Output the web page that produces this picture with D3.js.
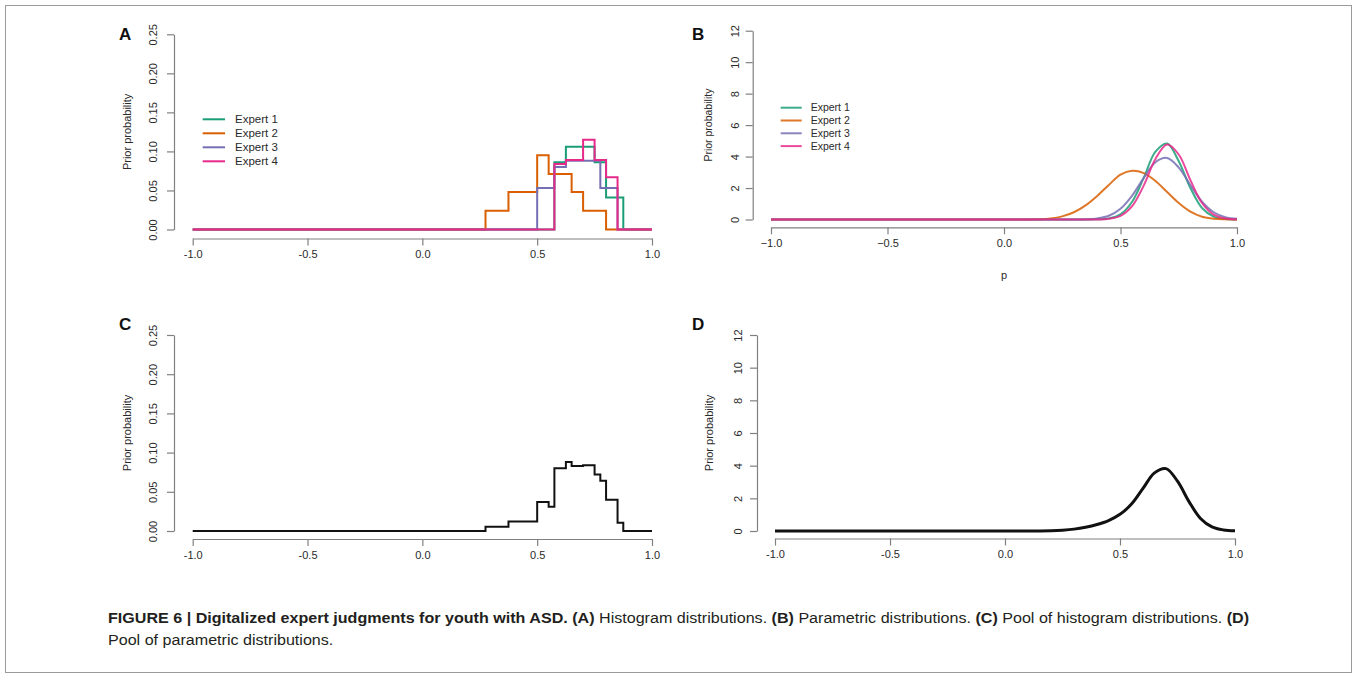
<!DOCTYPE html>
<html>
<head>
<meta charset="utf-8">
<script src="https://cdn.jsdelivr.net/npm/d3@7"></script>
<style>
  body { margin: 0; background: #fff; }
  text { font-family: "Liberation Sans", Arial, Helvetica, sans-serif; }
</style>
</head>
<body>
<svg id="fig" width="1358" height="679"></svg>
<script>
// ---- data ----
const experts = ["Expert 1", "Expert 2", "Expert 3", "Expert 4"];
const expertColors = ["#1b9e77", "#d95f02", "#7570b3", "#e7298a"];

// (A) histogram of each expert: bin edges and bin heights
const histEdges1 = [0.575, 0.625, 0.75, 0.80, 0.875];
const histProb1  = [0.086, 0.106, 0.086, 0.041];
const histEdges2 = [0.275, 0.375, 0.50, 0.55, 0.65, 0.70, 0.80];
const histProb2  = [0.024, 0.048, 0.095, 0.071, 0.048, 0.024];
const histEdges3 = [0.50, 0.575, 0.625, 0.775, 0.85];
const histProb3  = [0.053, 0.080, 0.088, 0.053];
const histEdges4 = [0.575, 0.625, 0.70, 0.75, 0.80, 0.85];
const histProb4  = [0.084, 0.089, 0.115, 0.089, 0.067];

// (C) pooled histogram
const poolEdges = [0.275, 0.375, 0.50, 0.55, 0.575, 0.625, 0.65, 0.70, 0.75, 0.775, 0.80, 0.85, 0.875];
const poolProb  = [0.0055, 0.012, 0.037, 0.031, 0.080, 0.088, 0.083, 0.084, 0.072, 0.064, 0.040, 0.0105];

// (B) parametric densities sampled along p
const pGrid = [-1.0, 0.0, 0.05, 0.10, 0.15, 0.20, 0.25, 0.30, 0.35, 0.40, 0.45,
               0.50, 0.55, 0.60, 0.65, 0.70, 0.75, 0.80, 0.85, 0.90, 0.95, 1.0];
const dens1 = [0, 0, 0, 0, 0, 0, 0, 0, 0, 0.01, 0.07, 0.33, 1.13, 2.66, 4.31, 4.83, 3.70, 2.00, 0.73, 0.18, 0.03, 0.0];
const dens2 = [0, 0, 0, 0, 0.01, 0.06, 0.20, 0.46, 0.90, 1.50, 2.20, 2.85, 3.10, 2.95, 2.45, 1.75, 1.05, 0.50, 0.18, 0.05, 0.01, 0];
const dens3 = [0, 0, 0, 0, 0, 0, 0, 0, 0.015, 0.07, 0.24, 0.68, 1.52, 2.65, 3.64, 3.91, 3.30, 2.19, 1.13, 0.46, 0.15, 0.04];
const dens4 = [0, 0, 0, 0, 0, 0, 0, 0, 0, 0, 0.045, 0.23, 0.85, 2.17, 3.85, 4.77, 4.13, 2.50, 1.05, 0.31, 0.066, 0.01];

// (D) pooled density
const poolDens = [0, 0, 0, 0, 0.0025, 0.015, 0.05, 0.115, 0.23, 0.40, 0.64, 1.02, 1.65, 2.61, 3.56, 3.82, 3.05, 1.80, 0.77, 0.25, 0.065, 0.015];

// axis ticks
const xTicks = [-1.0, -0.5, 0.0, 0.5, 1.0];
const probTicks = [0, 0.05, 0.10, 0.15, 0.20, 0.25];
const densTicks = [0, 2, 4, 6, 8, 10, 12];

// ---- drawing ----
const svg = d3.select("#fig");

svg.append("rect")
  .attr("x", 5.5).attr("y", 5.5)
  .attr("width", 1346).attr("height", 667)
  .attr("fill", "none").attr("stroke", "#9a9a9a").attr("stroke-width", 1);

function histPoints(edges, probs) {
  let pts = [[-1, 0]];
  edges.forEach((e, i) => pts.push([e, i < probs.length ? probs[i] : 0]));
  pts.push([1, 0]);
  return pts;
}

function makePanel(o) {
  const x = d3.scaleLinear().domain([-1, 1]).range([o.xLeft, o.xRight]);
  const y = d3.scaleLinear().domain([0, o.yMax]).range([o.yZero, o.yTop]);
  const g = svg.append("g");

  // y axis
  const ya = g.append("g")
    .attr("transform", `translate(${o.yAxisX},0)`)
    .call(d3.axisLeft(y).tickValues(o.yTicks).tickSize(7).tickSizeOuter(0)
      .tickFormat(o.yFormat));
  // x axis
  const xa = g.append("g")
    .attr("transform", `translate(0,${o.xAxisY})`)
    .call(d3.axisBottom(x).tickValues(xTicks).tickSize(7).tickSizeOuter(0)
      .tickFormat(o.xFormat));

  [ya, xa].forEach(a => {
    a.select(".domain").attr("stroke", "#808080").attr("stroke-width", 1.2);
    a.selectAll(".tick line").attr("stroke", "#808080").attr("stroke-width", 1.2);
    a.selectAll(".tick text").attr("fill", "#2a2a2a").style("font-size", "11px")
      .style("font-family", '"Liberation Sans", Arial, sans-serif');
  });
  ya.selectAll(".tick text")
    .attr("x", null).attr("dy", null)
    .attr("text-anchor", "middle")
    .attr("transform", `translate(${-o.yLabOff},0) rotate(-90)`);
  xa.selectAll(".tick text").attr("y", 12).attr("dy", "0.71em");

  // y title
  g.append("text")
    .attr("transform", `translate(${o.titleX},${(o.yZero + o.yTop) / 2}) rotate(-90)`)
    .attr("text-anchor", "middle")
    .style("font-size", o.titleSize + "px")
    .attr("fill", "#2a2a2a")
    .text("Prior probability");

  // panel letter
  g.append("text")
    .attr("x", o.letterX).attr("y", o.letterY)
    .style("font-size", "17px").style("font-weight", "bold")
    .attr("fill", "#111")
    .text(o.letter);

  return {g, x, y};
}

const histLine = (x, y) => d3.line().x(d => x(d[0])).y(d => y(d[1])).curve(d3.curveStepAfter);
const densLine = (x, y) => d3.line().x(d => x(d[0])).y(d => y(d[1])).curve(d3.curveCatmullRom);

function legend(g, lx0, lx1, tx, y0, dy, size, opacity) {
  experts.forEach((name, i) => {
    const yy = y0 + i * dy;
    g.append("line")
      .attr("x1", lx0).attr("x2", lx1).attr("y1", yy).attr("y2", yy)
      .attr("stroke", expertColors[i]).attr("stroke-width", 2).attr("stroke-opacity", opacity);
    g.append("text")
      .attr("x", tx).attr("y", yy).attr("dy", "0.36em")
      .style("font-size", size + "px").attr("fill", "#2a2a2a")
      .text(name);
  });
}

const fmt2 = d3.format(".2f");
const fmt1 = d3.format(".1f");
const fmtX = d => fmt1(d).replace("−", "-");

// Panel A
const A = makePanel({
  xLeft: 192.7, xRight: 652, yZero: 229.5, yTop: 34.3, yMax: 0.25,
  yAxisX: 174, xAxisY: 238.5, yTicks: probTicks, yFormat: fmt2, xFormat: fmtX,
  yLabOff: 17, titleX: 130.5, titleSize: 11, letter: "A", letterX: 119, letterY: 40
});
[[histEdges1, histProb1], [histEdges2, histProb2], [histEdges3, histProb3], [histEdges4, histProb4]]
  .forEach(([e, p], i) => {
    A.g.append("path")
      .datum(histPoints(e, p))
      .attr("d", histLine(A.x, A.y))
      .attr("fill", "none").attr("stroke", expertColors[i]).attr("stroke-width", 2);
  });
legend(A.g, 202.7, 225, 235, 119.3, 14, 11.5, 1);

// Panel B
const B = makePanel({
  xLeft: 771, xRight: 1237, yZero: 219.5, yTop: 30.7, yMax: 12,
  yAxisX: 752.7, xAxisY: 227.3, yTicks: densTicks, yFormat: d3.format("d"),
  xFormat: d => fmt1(d),
  yLabOff: 14, titleX: 712, titleSize: 10.5, letter: "B", letterX: 692, letterY: 40
});
[dens1, dens2, dens3, dens4].forEach((vals, i) => {
  B.g.append("path")
    .datum(pGrid.map((p, j) => [p, vals[j]]))
    .attr("d", densLine(B.x, B.y))
    .attr("fill", "none").attr("stroke", expertColors[i])
    .attr("stroke-width", 2).attr("stroke-opacity", 0.85);
});
legend(B.g, 780.7, 801.7, 810.7, 107.7, 12.8, 10.5, 0.85);
B.g.append("text")
  .attr("x", 1004).attr("y", 279)
  .attr("text-anchor", "middle")
  .style("font-size", "11px").attr("fill", "#2a2a2a")
  .text("p");

// Panel C
const C = makePanel({
  xLeft: 192.7, xRight: 652, yZero: 531, yTop: 335, yMax: 0.25,
  yAxisX: 174, xAxisY: 539, yTicks: probTicks, yFormat: fmt2, xFormat: fmtX,
  yLabOff: 17, titleX: 130.5, titleSize: 11, letter: "C", letterX: 119, letterY: 330
});
C.g.append("path")
  .datum(histPoints(poolEdges, poolProb))
  .attr("d", histLine(C.x, C.y))
  .attr("fill", "none").attr("stroke", "#111").attr("stroke-width", 2);

// Panel D
const D = makePanel({
  xLeft: 775, xRight: 1235, yZero: 531, yTop: 335, yMax: 12,
  yAxisX: 757, xAxisY: 538.5, yTicks: densTicks, yFormat: d3.format("d"), xFormat: fmtX,
  yLabOff: 15, titleX: 713, titleSize: 11, letter: "D", letterX: 692, letterY: 330
});
D.g.append("path")
  .datum(pGrid.map((p, j) => [p, poolDens[j]]))
  .attr("d", densLine(D.x, D.y))
  .attr("fill", "none").attr("stroke", "#111").attr("stroke-width", 3);

// ---- caption ----
const capLine1 = [
  ["FIGURE 6 | Digitalized expert judgments for youth with ASD. (A)", true],
  [" Histogram distributions. ", false],
  ["(B)", true],
  [" Parametric distributions. ", false],
  ["(C)", true],
  [" Pool of histogram distributions. ", false],
  ["(D)", true]
];
const capLine2 = [["Pool of parametric distributions.", false]];

function captionLine(parts, yBase) {
  const t = svg.append("text")
    .attr("transform", `translate(108,${yBase})`)
    .style("font-size", "15px").attr("fill", "#231f20")
    .attr("xml:space", "preserve");
  parts.forEach(([s, b]) => {
    t.append("tspan").style("font-weight", b ? "bold" : "normal").text(s);
  });
  return t;
}
const cap1 = captionLine(capLine1, 623);
const cap2 = captionLine(capLine2, 645);
const k = 1142 / cap1.node().getComputedTextLength();
cap1.attr("transform", `translate(108,623) scale(${k},1)`);
cap2.attr("transform", `translate(108,645) scale(${k},1)`);
</script>
</body>
</html>
